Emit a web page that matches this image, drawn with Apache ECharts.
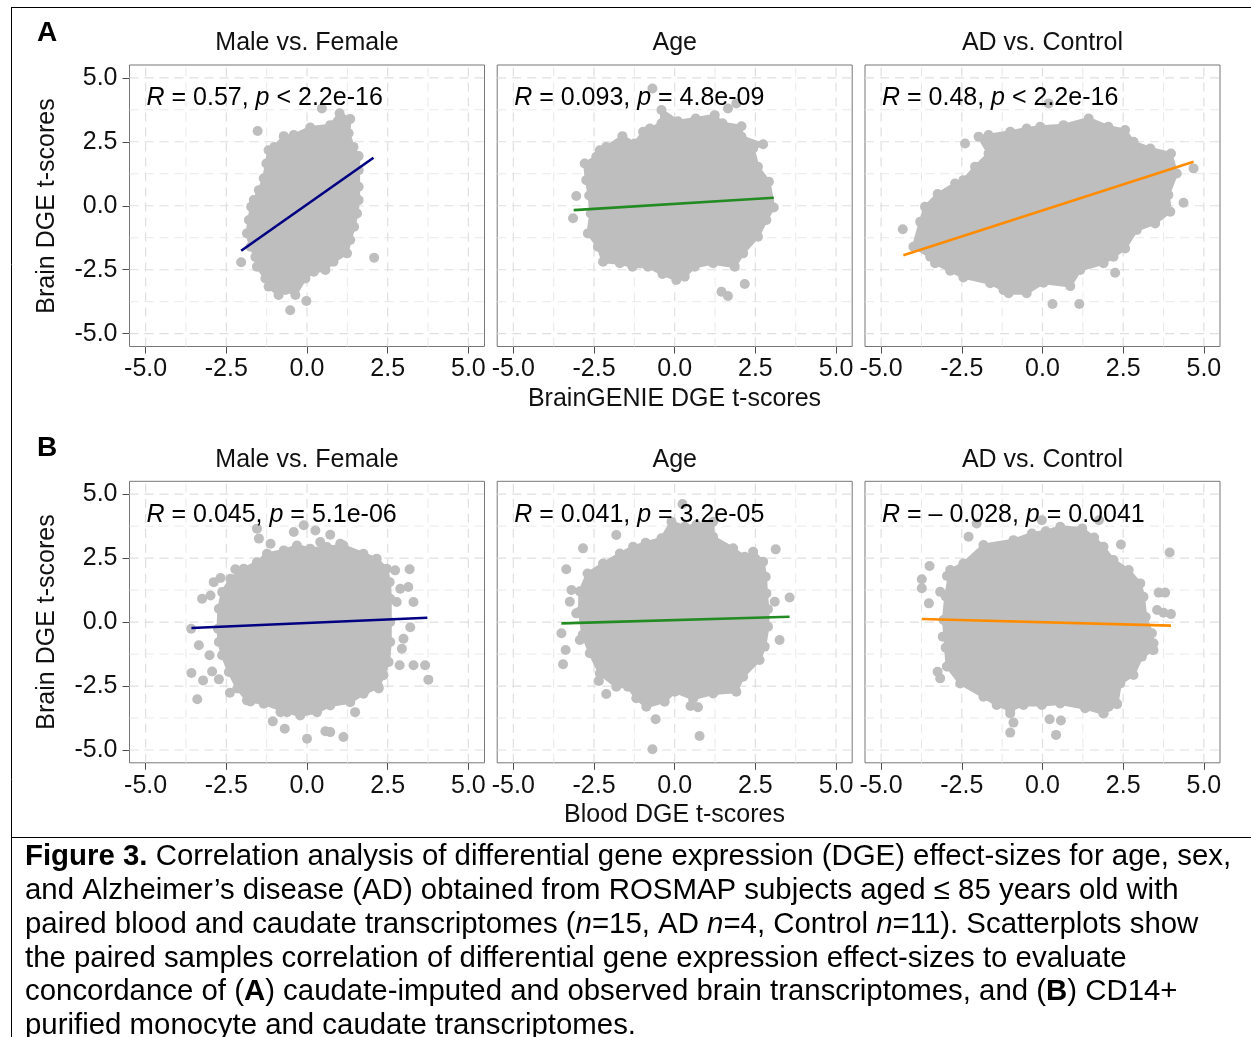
<!DOCTYPE html>
<html><head><meta charset="utf-8">
<script src="https://cdn.jsdelivr.net/npm/echarts@6/dist/echarts.min.js"></script>
<style>html,body{margin:0;padding:0;background:#fff;overflow:hidden}#c{width:1251px;height:1037px}</style>
</head><body><div id="c"></div>
<script>
// ---------- data ----------
const panelTitles = ['Male vs. Female', 'Age', 'AD vs. Control'];
const rowLabels = ['A', 'B'];
const xAxisTitles = ['BrainGENIE DGE t-scores', 'Blood DGE t-scores'];
const yAxisTitle = 'Brain DGE t-scores';
const tickValues = [-5, -2.5, 0, 2.5, 5];
const gridValues = [-5, -3.75, -2.5, -1.25, 0, 1.25, 2.5, 3.75, 5];
const statR = ['0.57', '0.093', '0.48', '0.045', '0.041', '\u2013 0.028'];
const statP = ['< 2.2e-16', '= 4.8e-09', '< 2.2e-16', '= 5.1e-06', '= 3.2e-05', '= 0.0041'];

// dense point clouds: outline points of the overlapping markers (x, y)
const cloudA1 = [[-1.86,-1.08],[-1.80,-0.56],[-1.73,-0.04],[-1.65,0.22],[-1.49,0.61],[-1.34,1.07],[-1.26,1.65],[-1.19,2.17],[-1.01,2.3],[-0.72,2.72],[-0.41,2.76],[0.10,3.06],[0.72,3.15],[1.01,3.61],[1.34,3.39],[1.29,2.83],[1.44,2.3],[1.6,1.94],[1.6,1.39],[1.6,0.74],[1.6,0.22],[1.55,-0.3],[1.46,-0.82],[1.34,-1.34],[1.24,-1.86],[0.82,-2.19],[0.57,-2.51],[0.21,-2.58],[-0.05,-2.84],[-0.36,-3.49],[-0.67,-3.29],[-0.88,-3.49],[-1.19,-3.16],[-1.29,-2.84],[-1.55,-2.38],[-1.6,-2.0],[-1.75,-1.6]];
const cloudA2 = [[-2.6,-0.3],[-2.65,0.4],[-2.74,1.0],[-2.79,1.65],[-2.43,1.91],[-2.32,2.17],[-2.12,2.3],[-1.62,2.72],[-1.24,2.43],[-0.98,2.89],[-0.77,3.02],[-0.41,3.22],[-0.41,3.74],[0.1,3.3],[0.65,3.41],[1.24,3.54],[1.48,3.22],[2.07,3.11],[2.07,2.7],[2.74,2.4],[2.43,2.24],[2.58,1.52],[2.92,0.94],[3.07,-0.07],[2.84,-0.56],[2.58,-1.21],[2.12,-1.86],[1.86,-2.38],[1.19,-2.25],[0.62,-2.38],[0.31,-2.77],[0.05,-2.9],[-0.38,-2.67],[-0.83,-2.38],[-1.31,-2.38],[-1.70,-2.25],[-2.22,-2.19],[-2.38,-1.6],[-2.69,-1.08]];
const cloudA3 = [[-4.0,-1.6],[-3.79,-0.63],[-3.64,-0.04],[-3.25,0.46],[-2.71,0.87],[-2.45,1.0],[-2.09,1.52],[-1.67,2.04],[-1.98,2.7],[-1.67,2.76],[-1.0,2.89],[-0.49,3.02],[-0.07,3.09],[0.65,3.15],[1.43,3.41],[2.04,3.09],[2.56,2.96],[2.82,2.5],[3.34,2.24],[3.98,2.04],[4.16,1.26],[3.9,0.42],[3.96,-0.23],[3.49,-0.69],[2.92,-0.95],[2.56,-1.67],[2.2,-1.99],[1.89,-2.25],[1.17,-2.51],[0.86,-3.14],[0.03,-3.01],[-0.49,-3.42],[-1.05,-3.42],[-1.21,-3.29],[-1.62,-3.03],[-2.45,-2.8],[-2.86,-2.54],[-3.33,-2.25],[-3.48,-1.99]];
const cloudB1 = [[-2.76,-0.26],[-2.73,0.52],[-2.63,1.17],[-2.37,1.69],[-1.96,2.08],[-1.55,2.34],[-1.24,2.67],[-0.72,2.8],[-0.31,2.99],[0.1,2.86],[0.62,2.93],[1.13,2.99],[1.75,2.67],[2.16,2.47],[2.47,2.08],[2.56,1.56],[2.58,0.91],[2.58,0],[2.58,-0.78],[2.53,-1.56],[2.37,-2.08],[2.22,-2.54],[1.75,-2.8],[1.34,-3.13],[0.72,-3.26],[0.31,-3.52],[-0.21,-3.65],[-0.62,-3.52],[-1.34,-3.19],[-1.86,-3.06],[-2.16,-2.6],[-2.42,-1.95],[-2.63,-1.3],[-2.73,-0.78]];
const cloudB2 = [[-2.85,-0.5],[-2.95,0.4],[-2.94,1.2],[-2.7,1.9],[-2.22,2.29],[-1.7,2.68],[-1.29,2.94],[-0.9,3.1],[-0.41,3.27],[-0.1,3.92],[0.31,3.72],[0.67,3.79],[1.19,3.92],[1.19,3.33],[1.81,2.88],[2.17,2.55],[2.43,2.75],[2.74,2.36],[2.82,1.77],[2.84,1.12],[2.89,0.5],[2.89,-0.18],[2.79,-0.96],[2.63,-1.48],[2.12,-2.14],[1.91,-2.72],[1.19,-2.79],[0.57,-3.0],[0.0,-2.72],[-0.31,-3.11],[-0.88,-3.31],[-1.19,-2.98],[-1.45,-2.53],[-1.81,-2.53],[-2.32,-2.01],[-2.63,-1.22]];
const cloudB3 = [[-3.0,-1.0],[-3.07,0.08],[-3.0,1.0],[-2.86,2.03],[-2.45,2.29],[-1.83,3.01],[-0.9,3.2],[-0.33,3.46],[0.1,3.55],[0.55,3.72],[1.23,3.66],[1.6,3.3],[1.89,2.94],[2.2,2.42],[2.67,2.03],[3.03,1.51],[3.13,0.99],[3.2,0.2],[3.39,-0.44],[3.44,-1.09],[3.08,-1.35],[2.82,-2.07],[2.41,-2.4],[2.31,-3.2],[1.89,-3.57],[1.32,-3.37],[0.55,-3.18],[-0.02,-3.24],[-0.59,-3.24],[-1.0,-3.44],[-1.42,-3.24],[-1.83,-2.92],[-2.55,-2.4],[-2.96,-1.74]];

// isolated points around the clouds (x, y)
const pointsA1 = [[-1.53,2.92],[2.08,-2.03],[-2.04,-2.21],[-0.52,-4.08],[-0.02,-3.72],[0.46,3.8]];
const pointsA2 = [[-0.69,4.58],[1.65,3.8],[1.91,4.0],[2.17,-3.06],[1.45,-3.36],[1.65,-3.53],[-3.15,-0.49],[-3.05,0.38]];
const pointsA3 = [[4.68,1.46],[4.37,0.12],[2.25,-2.62],[1.14,-3.84],[0.31,-3.84],[-4.33,-0.92],[-2.4,2.43],[0.19,4.0]];
const pointsB1 = [[-1.55,3.65],[-1.49,3.26],[-1.13,3.06],[-0.41,3.52],[-0.1,3.78],[0.26,3.58],[0.72,3.41],[0.41,3.13],[1.03,3.06],[2.73,2.02],[3.18,2.06],[3.14,1.37],[2.89,1.3],[3.3,0.78],[2.78,0.78],[3.2,-0.2],[2.99,-0.65],[2.94,-1.04],[2.87,-1.69],[3.3,-1.69],[3.66,-1.69],[3.76,-2.25],[2.22,-2.6],[1.8,-2.67],[1.49,-3.52],[1.13,-4.49],[0.72,-4.3],[0.57,-4.27],[0,-4.56],[-0.69,-4.17],[-1.06,-3.88],[-0.82,-3.52],[-1.75,-3.1],[-2.39,-2.76],[-2.73,-2.24],[-3.22,-2.28],[-3.4,-3.02],[-3.58,-1.99],[-2.94,-1.93],[-3.02,-1.3],[-3.35,-0.91],[-3.59,-0.26],[-3.25,0.91],[-2.99,1.04],[-2.89,1.56],[-2.68,1.72],[-2.22,2.06]];
const pointsB2 = [[0.24,4.61],[-1.81,3.4],[-2.84,2.88],[-3.36,2.06],[-3.2,1.25],[-3.25,0.79],[-3.05,0.34],[-3.51,-0.44],[-3.38,-1.09],[-3.46,-1.65],[-2.94,-0.7],[-2.12,-2.81],[-2.35,-2.3],[-0.59,-3.8],[-0.69,-4.97],[0.49,-3.28],[0.72,-3.33],[0.77,-4.45],[3.56,0.96],[3.1,0.79],[3.25,-0.7],[3.13,2.84]];
const pointsB3 = [[-2.04,3.85],[-2.29,3.33],[-0.02,3.98],[1.75,3.98],[2.43,3.03],[3.94,2.72],[3.6,1.15],[3.8,1.15],[3.55,0.47],[3.75,0.36],[3.98,0.31],[3.44,-0.83],[3.42,-1.09],[2.31,-3.2],[2.05,-3.31],[1.89,-3.57],[0.57,-3.85],[0.22,-3.8],[0.42,-4.41],[-0.9,-3.93],[-1.0,-4.32],[-1.0,-3.57],[-3.17,-2.2],[-3.25,-1.94],[-2.96,-1.74],[-3.52,0.73],[-3.74,1.32],[-3.74,1.67],[-3.5,2.19],[-3.17,1.18],[-2.96,1.8],[-3.09,-0.57]];

// fitted regression lines: [start, end]
const fitA1 = [[-2.04,-1.76],[2.06,1.875]];
const fitA2 = [[-3.13,-0.17],[3.07,0.31]];
const fitA3 = [[-4.31,-1.93],[4.68,1.72]];
const fitB1 = [[-3.58,-0.23],[3.73,0.17]];
const fitB2 = [[-3.51,-0.05],[3.56,0.21]];
const fitB3 = [[-3.74,0.12],[3.98,-0.14]];

// ---------- layout & style ----------
const FONT = '"Liberation Sans", Arial, Helvetica, sans-serif';
const clouds = [cloudA1, cloudA2, cloudA3, cloudB1, cloudB2, cloudB3];
const points = [pointsA1, pointsA2, pointsA3, pointsB1, pointsB2, pointsB3];
const fits = [fitA1, fitA2, fitA3, fitB1, fitB2, fitB3];
const fitColors = ['#000080', '#228B22', '#FF8C00'];
const gridLefts = [129.5, 497.2, 865];
const gridTops = [65, 481.3];
const GW = 355, GH = 281.5;
const PT = '#BEBEBE';
const DOT = 10;

const grids = [], xAxes = [], yAxes = [], series = [], graphics = [];
for (let i = 0; i < 6; i++) {
  const r = Math.floor(i / 3), c = i % 3;
  grids.push({ left: gridLefts[c], top: gridTops[r], width: GW, height: GH,
    show: true, borderColor: '#777', borderWidth: 1, backgroundColor: '#fff', containLabel: false });
  xAxes.push({ gridIndex: i, type: 'value', min: -5.5, max: 5.5,
    axisLine: { show: false, onZero: false }, splitLine: { show: false },
    axisTick: { show: true, length: 7, customValues: tickValues, lineStyle: { color: '#4d4d4d', width: 1 } },
    axisLabel: { show: true, customValues: tickValues, formatter: v => Number(v).toFixed(1),
      color: '#111', fontSize: 25, fontFamily: FONT, margin: 10.5 } });
  yAxes.push({ gridIndex: i, type: 'value', min: -5.5, max: 5.5,
    axisLine: { show: false, onZero: false }, splitLine: { show: false },
    axisTick: { show: c === 0, length: 7, customValues: tickValues, lineStyle: { color: '#4d4d4d', width: 1 } },
    axisLabel: { show: c === 0, customValues: tickValues, formatter: v => Number(v).toFixed(1),
      color: '#111', fontSize: 25, fontFamily: FONT, margin: 12 } });
  const cloud = clouds[i];
  series.push({ type: 'custom', xAxisIndex: i, yAxisIndex: i, z: 1, silent: true, data: cloud,
    renderItem: (params, api) => {
      if (params.dataIndex !== 0) return null;
      const cs = params.coordSys;
      const ch = [];
      gridValues.forEach(v => {
        const major = (v % 2.5 === 0);
        const st = { stroke: major ? '#DFDFDF' : '#E9E9E9', lineWidth: major ? 1.2 : 1, lineDash: [9, 6] };
        const px = api.coord([v, 0])[0];
        ch.push({ type: 'line', shape: { x1: px, y1: cs.y + cs.height, x2: px, y2: cs.y }, style: st });
        const py = api.coord([0, v])[1];
        ch.push({ type: 'line', shape: { x1: cs.x, y1: py, x2: cs.x + cs.width, y2: py }, style: st });
      });
      ch.push({ type: 'polygon', shape: { points: cloud.map(p => api.coord(p)) },
        style: { fill: PT, stroke: PT, lineWidth: 3, lineJoin: 'round' } });
      return { type: 'group', children: ch };
    } });
  // markers on the cloud outline (give the bumpy edge)
  series.push({ type: 'scatter', xAxisIndex: i, yAxisIndex: i, z: 2, silent: true, data: cloud,
    symbol: 'circle', symbolSize: DOT, itemStyle: { color: PT, opacity: 1 } });
  series.push({ type: 'scatter', xAxisIndex: i, yAxisIndex: i, z: 2, silent: true, data: points[i],
    symbol: 'circle', symbolSize: DOT, itemStyle: { color: PT, opacity: 1 } });
  series.push({ type: 'line', xAxisIndex: i, yAxisIndex: i, z: 3, silent: true, data: fits[i],
    symbol: 'none', showSymbol: false, lineStyle: { color: fitColors[c], width: 2.6 } });

  // correlation annotation
  graphics.push({ type: 'text', x: gridLefts[c] + 17, y: r === 0 ? 98 : 515, z: 10,
    style: { text: '{i|R} = ' + statR[i] + ', {i|p} ' + statP[i], fontSize: 25, fontFamily: FONT, fill: '#000',
      textAlign: 'left', textVerticalAlign: 'middle', align: 'left', verticalAlign: 'middle',
      rich: { i: { fontStyle: 'italic', fontSize: 25, fontFamily: FONT, fill: '#000' } } } });
}

// strip titles and row labels
for (let r = 0; r < 2; r++) {
  for (let c = 0; c < 3; c++) {
    graphics.push({ type: 'text', x: gridLefts[c] + GW / 2, y: r === 0 ? 43.5 : 460.5,
      style: { text: panelTitles[c], fontSize: 25, fontFamily: FONT, fill: '#111',
        textAlign: 'center', textVerticalAlign: 'middle', align: 'center', verticalAlign: 'middle' } });
  }
  graphics.push({ type: 'text', x: 37, y: r === 0 ? 33 : 448,
    style: { text: rowLabels[r], fontSize: 28, fontWeight: 'bold', fontFamily: FONT, fill: '#000',
      textAlign: 'left', textVerticalAlign: 'middle', align: 'left', verticalAlign: 'middle' } });
  graphics.push({ type: 'text', x: 674.5, y: r === 0 ? 399 : 815.5,
    style: { text: xAxisTitles[r], fontSize: 25, fontFamily: FONT, fill: '#111',
      textAlign: 'center', textVerticalAlign: 'middle', align: 'center', verticalAlign: 'middle' } });
  graphics.push({ type: 'text', x: 47, y: r === 0 ? 206 : 622, rotation: Math.PI / 2,
    style: { text: yAxisTitle, fontSize: 25, fontFamily: FONT, fill: '#111',
      textAlign: 'center', textVerticalAlign: 'middle', align: 'center', verticalAlign: 'middle' } });
}

// figure frame
const frame = { stroke: '#000', lineWidth: 1 };
graphics.push({ type: 'line', shape: { x1: 11, y1: 7.5, x2: 1251, y2: 7.5 }, style: frame });
graphics.push({ type: 'line', shape: { x1: 11.5, y1: 7, x2: 11.5, y2: 1037 }, style: frame });
graphics.push({ type: 'line', shape: { x1: 11, y1: 837.5, x2: 1251, y2: 837.5 }, style: frame });

// caption
const LH = 33.8, CF = 29.4;
const caption = '{b|Figure 3.} Correlation analysis of differential gene expression (DGE) effect-sizes for age, sex,\n' +
  'and Alzheimer\u2019s disease (AD) obtained from ROSMAP subjects aged \u2264 85 years old with\n' +
  'paired blood and caudate transcriptomes ({i|n}=15, AD {i|n}=4, Control {i|n}=11). Scatterplots show\n' +
  'the paired samples correlation of differential gene expression effect-sizes to evaluate\n' +
  'concordance of ({b|A}) caudate-imputed and observed brain transcriptomes, and ({b|B}) CD14+\n' +
  'purified monocyte and caudate transcriptomes.';
graphics.push({ type: 'text', x: 25, y: 857 - LH / 2,
  style: { text: caption, fontSize: CF, fontFamily: FONT, fill: '#000', lineHeight: LH,
    textAlign: 'left', textVerticalAlign: 'top', align: 'left', verticalAlign: 'top',
    rich: { b: { fontWeight: 'bold', fontSize: CF, fontFamily: FONT, lineHeight: LH, fill: '#000' },
            i: { fontStyle: 'italic', fontSize: CF, fontFamily: FONT, lineHeight: LH, fill: '#000' } } } });

const chart = echarts.init(document.getElementById('c'), null, { renderer: 'canvas' });
chart.setOption({ animation: false, backgroundColor: '#fff', grid: grids, xAxis: xAxes, yAxis: yAxes,
  series: series, graphic: { elements: graphics } });
</script></body></html>
